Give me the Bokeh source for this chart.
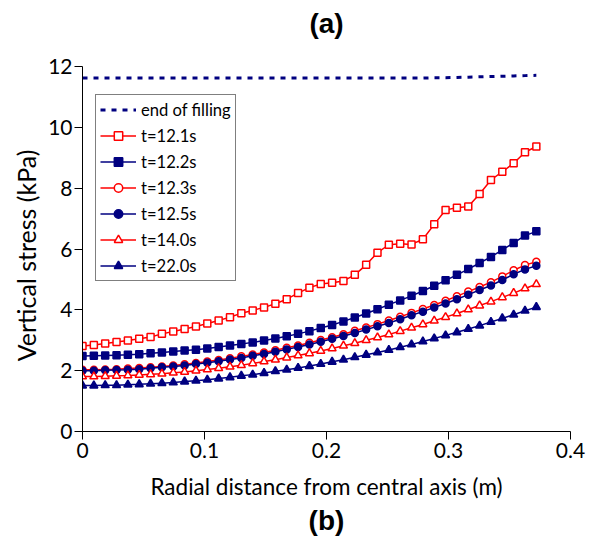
from bokeh.plotting import figure
from bokeh.models import Legend, LegendItem, FixedTicker, NumeralTickFormatter, Title
from bokeh.embed import file_html
from bokeh.resources import INLINE

# Radial positions of the stress readings (m)
radial = [0, 0.0093, 0.0186, 0.0279, 0.0372, 0.0465, 0.0558, 0.0651, 0.0744, 0.0837,
          0.093, 0.1023, 0.1116, 0.1209, 0.1302, 0.1395, 0.1488, 0.1581, 0.1674, 0.1767,
          0.186, 0.1953, 0.2046, 0.2139, 0.2232, 0.2325, 0.2418, 0.2511, 0.2604, 0.2697,
          0.279, 0.2883, 0.2976, 0.3069, 0.3162, 0.3255, 0.3348, 0.3441, 0.3534, 0.3627,
          0.372]

# Vertical stress (kPa) for each time
end_of_filling = [11.62, 11.62, 11.62, 11.62, 11.62, 11.62, 11.62, 11.62, 11.62, 11.62,
                  11.62, 11.62, 11.62, 11.62, 11.62, 11.62, 11.62, 11.62, 11.62, 11.62,
                  11.62, 11.62, 11.62, 11.62, 11.62, 11.62, 11.62, 11.62, 11.62, 11.62,
                  11.62, 11.63, 11.63, 11.64, 11.65, 11.66, 11.67, 11.68, 11.69, 11.70,
                  11.71]
t_12_1 = [2.81, 2.84, 2.89, 2.94, 2.99, 3.05, 3.11, 3.21, 3.29, 3.37,
          3.45, 3.55, 3.65, 3.76, 3.89, 3.98, 4.08, 4.20, 4.35, 4.55,
          4.73, 4.85, 4.89, 4.95, 5.15, 5.48, 5.88, 6.14, 6.17, 6.15,
          6.32, 6.81, 7.28, 7.36, 7.40, 7.81, 8.27, 8.54, 8.82, 9.18,
          9.37]
t_12_2 = [2.48, 2.49, 2.50, 2.51, 2.52, 2.54, 2.57, 2.60, 2.63, 2.66,
          2.69, 2.73, 2.78, 2.83, 2.88, 2.93, 2.99, 3.06, 3.13, 3.21,
          3.30, 3.40, 3.50, 3.62, 3.75, 3.88, 4.02, 4.17, 4.31, 4.46,
          4.62, 4.79, 4.97, 5.15, 5.34, 5.54, 5.74, 5.97, 6.20, 6.44,
          6.58]
t_12_3 = [2.03, 2.03, 2.04, 2.05, 2.07, 2.09, 2.11, 2.14, 2.17, 2.21,
          2.25, 2.30, 2.35, 2.41, 2.47, 2.53, 2.60, 2.67, 2.75, 2.83,
          2.92, 3.01, 3.10, 3.20, 3.31, 3.42, 3.53, 3.65, 3.77, 3.90,
          4.03, 4.16, 4.30, 4.45, 4.60, 4.75, 4.91, 5.10, 5.30, 5.47,
          5.58]
t_12_5 = [2.00, 2.00, 2.01, 2.02, 2.03, 2.05, 2.08, 2.11, 2.14, 2.17,
          2.22, 2.26, 2.31, 2.37, 2.42, 2.49, 2.55, 2.62, 2.70, 2.78,
          2.86, 2.95, 3.05, 3.14, 3.24, 3.35, 3.46, 3.57, 3.69, 3.82,
          3.94, 4.08, 4.21, 4.35, 4.50, 4.65, 4.80, 4.98, 5.17, 5.33,
          5.45]
t_14_0 = [1.81, 1.81, 1.82, 1.83, 1.84, 1.86, 1.88, 1.90, 1.93, 1.96,
          2.00, 2.04, 2.08, 2.13, 2.18, 2.24, 2.30, 2.36, 2.43, 2.50,
          2.57, 2.65, 2.73, 2.82, 2.90, 3.00, 3.09, 3.19, 3.30, 3.41,
          3.52, 3.64, 3.76, 3.88, 4.01, 4.14, 4.27, 4.41, 4.55, 4.70,
          4.84]
t_22_0 = [1.51, 1.51, 1.52, 1.52, 1.54, 1.55, 1.57, 1.59, 1.61, 1.64,
          1.67, 1.70, 1.74, 1.78, 1.83, 1.87, 1.92, 1.98, 2.03, 2.09,
          2.15, 2.22, 2.29, 2.36, 2.44, 2.52, 2.60, 2.68, 2.77, 2.86,
          2.96, 3.06, 3.16, 3.26, 3.37, 3.48, 3.60, 3.72, 3.84, 3.97,
          4.09]

x_ticks = [0, 0.1, 0.2, 0.3, 0.4]
y_ticks = [0, 2, 4, 6, 8, 10, 12]

RED = "#ff0000"
NAVY = "#000080"
FONT = "Lato"

p = figure(width=589, height=541, x_range=(0, 0.4), y_range=(0, 12),
           output_backend="svg", toolbar_location=None,
           min_border_left=82, min_border_right=19,
           min_border_top=66, min_border_bottom=110)
p.title.text = ""

p.outline_line_color = None
p.grid.visible = False
p.background_fill_color = "white"
p.border_fill_color = "white"

for ax in (p.xaxis[0], p.yaxis[0]):
    ax.axis_line_color = "black"
    ax.axis_line_width = 1
    ax.major_tick_line_color = "black"
    ax.major_tick_in = 0
    ax.major_tick_out = 8
    ax.minor_tick_in = 0
    ax.minor_tick_out = 0
    ax.major_label_text_font = FONT
    ax.major_label_text_font_size = "21px"
    ax.major_label_text_color = "black"
    ax.axis_label_text_font = FONT
    ax.axis_label_text_font_style = "normal"
    ax.axis_label_text_color = "black"

p.xaxis.ticker = FixedTicker(ticks=x_ticks)
p.xaxis.formatter = NumeralTickFormatter(format="0.[0]")
p.xaxis.axis_label = "Radial distance from central axis (m)"
p.xaxis.axis_label_text_font_size = "22.5px"
p.xaxis.major_label_standoff = 3
p.xaxis.axis_label_standoff = 12

p.yaxis.ticker = FixedTicker(ticks=y_ticks)
p.yaxis.axis_label = "Vertical stress (kPa)  "
p.yaxis.axis_label_text_font_size = "25px"
p.yaxis.major_label_standoff = 2
p.yaxis.axis_label_standoff = 4

# Panel captions: a thin blank strip keeps "(a)" near the top edge
caption_style = dict(align="center", text_font="Liberation Sans", text_font_style="bold",
                     text_font_size="28px", text_color="black")
p.add_layout(Title(text=" ", text_font_size="1px", standoff=25), "above")
p.add_layout(Title(text="(a)", standoff=0, **caption_style), "above")
p.add_layout(Title(text="(b)", standoff=0, **caption_style), "below")

items = []

r = p.line(radial, end_of_filling, line_color=NAVY, line_width=3, line_dash="5 6")
items.append(LegendItem(label="end of filling", renderers=[r]))

series = [
    ("t=12.1s", t_12_1, RED, "square", "white"),
    ("t=12.2s", t_12_2, NAVY, "square", NAVY),
    ("t=12.3s", t_12_3, RED, "circle", "white"),
    ("t=12.5s", t_12_5, NAVY, "circle", NAVY),
    ("t=14.0s", t_14_0, RED, "triangle", "white"),
    ("t=22.0s", t_22_0, NAVY, "triangle", NAVY),
]
for label, vals, color, marker, fill in series:
    ln = p.line(radial, vals, line_color=color, line_width=1.5)
    mk = p.scatter(radial, vals, marker=marker, size=7 if marker != "triangle" else 8,
                   line_color=color, fill_color=fill, line_width=1.5)
    items.append(LegendItem(label=label, renderers=[ln, mk]))

legend = Legend(items=items, location=(13, 150))
legend.border_line_color = "black"
legend.border_line_width = 1.2
legend.background_fill_color = "white"
legend.background_fill_alpha = 1
legend.label_text_font = FONT
legend.label_text_font_size = "16.6px"
legend.label_text_color = "black"
legend.glyph_width = 36
legend.glyph_height = 21
legend.label_height = 21
legend.label_standoff = 5
legend.spacing = 5
legend.padding = 4
legend.margin = 0
p.add_layout(legend, "center")

open("out.html", "w").write(file_html(p, INLINE))
